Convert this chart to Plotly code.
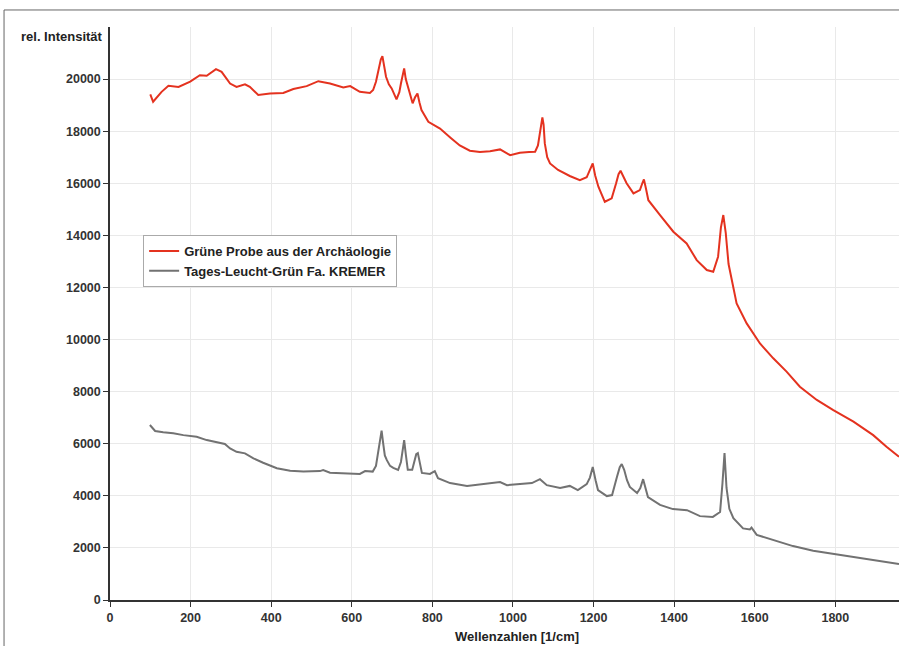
import plotly.graph_objects as go

# Red series: "Grüne Probe aus der Archäologie"
red_x = [100, 107, 128, 145, 170, 199, 223, 240, 263, 277, 298, 314, 335, 347, 368, 397, 430, 455,
         488, 517, 546, 579, 596, 620, 645, 653, 660, 666, 672, 676, 680, 685, 692, 699, 711, 718, 722,
         727, 730, 734, 740, 751, 757, 763, 768, 773, 790, 819, 845, 868, 893, 918, 943, 968, 993,
         1017, 1040, 1055, 1062, 1066, 1070, 1073, 1076, 1079, 1085, 1092,
         1112, 1141, 1166, 1183, 1192, 1198, 1204, 1212, 1228, 1245, 1256, 1262, 1267, 1273, 1282,
         1299, 1315, 1321, 1325, 1330, 1336,
         1365, 1398, 1431, 1456, 1481, 1497, 1509, 1516, 1522, 1528, 1535, 1543, 1555, 1580, 1613,
         1646, 1679, 1712, 1754, 1795, 1845, 1894, 1927, 1958]
red_y = [19410, 19130, 19510, 19740, 19700, 19900, 20150, 20130, 20380, 20280, 19830, 19700, 19800,
         19700, 19390, 19450, 19470, 19620, 19730, 19920, 19830, 19680, 19730, 19510, 19470, 19580,
         19900, 20350, 20750, 20880, 20500, 20090, 19800, 19640, 19220, 19500, 19830, 20300, 20410,
         20000, 19640, 19070, 19300, 19450, 19100, 18810, 18360, 18100,
         17750, 17450, 17250, 17200, 17230, 17300, 17080, 17170, 17200, 17210, 17450, 17850, 18350,
         18530, 18250, 17530, 17000, 16760,
         16510, 16280, 16120, 16230, 16550, 16760, 16300, 15870, 15290, 15420, 16000, 16350, 16480,
         16300, 16000, 15610, 15740, 16000, 16150, 15800, 15350,
         14780, 14140, 13690, 13050, 12670, 12600, 13180, 14300, 14780, 14100, 12900, 12280, 11390,
         10620, 9850, 9280, 8770, 8190, 7680, 7290, 6850, 6330, 5880, 5500]

# Gray series: "Tages-Leucht-Grün Fa. KREMER"
gray_x = [99, 112, 132, 157, 182, 215, 240, 265, 285, 298, 314, 335, 356, 380, 414, 447, 480, 521,
          529, 546, 579, 620, 633, 652, 660, 666, 670, 674, 678, 682, 687, 695, 703, 715, 722, 727, 730,
          734, 739, 750, 755, 760, 764, 768, 774, 794, 806, 814, 844, 886, 918, 968, 985, 1017, 1047,
          1067, 1084, 1117, 1141, 1161, 1183, 1191, 1198, 1205, 1211, 1233, 1246, 1258, 1265, 1270,
          1276, 1283, 1290, 1308, 1316, 1323, 1329, 1335, 1365, 1397, 1432, 1464, 1496, 1514, 1520,
          1525, 1530, 1537, 1547, 1571, 1588, 1592, 1605, 1646, 1695, 1745, 1795, 1845, 1894, 1958]
gray_y = [6720, 6490, 6440, 6400, 6330, 6270, 6140, 6050, 5990, 5820, 5690, 5630, 5440, 5270, 5060,
          4960, 4930, 4950, 4990, 4890, 4860, 4840, 4950, 4930, 5150, 5760, 6200, 6500, 6000, 5550,
          5370, 5150, 5070, 4990, 5300, 5900, 6140, 5600, 5000, 5000, 5350, 5600, 5640, 5300, 4880,
          4840, 4950, 4680, 4490, 4380, 4450, 4530, 4410, 4450, 4490, 4640, 4410, 4300, 4380, 4220,
          4450, 4700, 5110, 4600, 4220, 3990, 4030, 4720, 5100, 5220, 5000, 4600, 4340, 4110, 4300,
          4640, 4300, 3950, 3650, 3490, 3450, 3220, 3190, 3380, 4500, 5640, 4300, 3500, 3140, 2750,
          2710, 2780, 2500, 2300, 2070, 1890, 1770, 1640, 1540, 1380]

x_ticks = [0, 200, 400, 600, 800, 1000, 1200, 1400, 1600, 1800]
y_ticks = [0, 2000, 4000, 6000, 8000, 10000, 12000, 14000, 16000, 18000, 20000]

FONT = "Liberation Sans"
TXT = dict(family=FONT, size=13, color="#222222", weight="bold")

fig = go.Figure()
fig.add_trace(go.Scatter(x=red_x, y=red_y, mode="lines", name="Grüne Probe aus der Archäologie",
                         line=dict(color="#e4321f", width=2)))
fig.add_trace(go.Scatter(x=gray_x, y=gray_y, mode="lines", name="Tages-Leucht-Grün Fa. KREMER",
                         line=dict(color="#727272", width=2)))

fig.update_layout(
    width=899, height=646,
    margin=dict(l=110, r=0, t=27, b=46),
    paper_bgcolor="white", plot_bgcolor="white",
    showlegend=True,
    legend=dict(x=0.042, y=0.637, xanchor="left", yanchor="top",
                bgcolor="white", bordercolor="#aaaaaa", borderwidth=1,
                font=TXT, itemwidth=30, tracegroupgap=0),
    font=dict(family=FONT, size=13, color="#333333"),
)

fig.update_xaxes(range=[0, 1958], tickvals=x_ticks, tickformat="d", showgrid=True,
                 gridcolor="#e9e9e9", showline=True, linecolor="#333333", linewidth=1.5,
                 ticks="outside", ticklen=5, tickcolor="#333333",
                 tickfont=dict(family=FONT, size=12.5, color="#333333", weight="bold"),
                 zeroline=False)
fig.update_yaxes(range=[0, 22000], tickvals=y_ticks, tickformat="d", showgrid=True,
                 gridcolor="#e9e9e9", showline=True, linecolor="#333333", linewidth=1.5,
                 ticks="outside", ticklen=5, tickcolor="#333333",
                 tickfont=dict(family=FONT, size=12.5, color="#333333", weight="bold"),
                 zeroline=False)

fig.add_annotation(text="rel. Intensität", xref="paper", yref="paper", x=0, y=1,
                   xanchor="right", yanchor="middle", xshift=-5, yshift=-9, showarrow=False,
                   font=TXT)
fig.add_annotation(text="Wellenzahlen [1/cm]", xref="x", yref="paper", x=1010, y=0,
                   xanchor="center", yanchor="middle", yshift=-36, showarrow=False,
                   font=TXT)

# outer frame of the picture
fig.add_shape(type="rect", xref="paper", yref="paper",
              x0=-0.1343, x1=1.3, y0=-0.3, y1=1.0297,
              line=dict(color="#666666", width=1), fillcolor="rgba(0,0,0,0)", layer="above")

fig.write_html("out.html")
